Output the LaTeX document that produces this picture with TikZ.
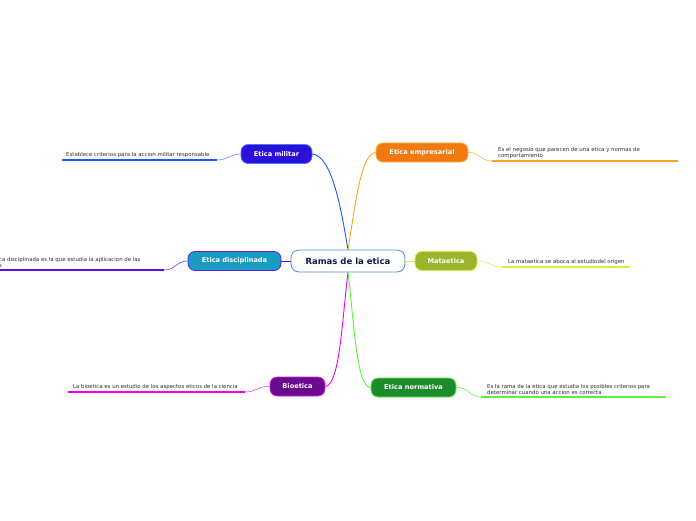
\documentclass[tikz,border=0pt]{standalone}
\usepackage{fontspec}
\setmainfont{DejaVu Sans}
\definecolor{cmil}{HTML}{2A10D8}\definecolor{bmil}{HTML}{4A7CFF}\definecolor{lmil}{HTML}{1A5CFF}
\definecolor{cemp}{HTML}{F07A10}\definecolor{bemp}{HTML}{F7B040}\definecolor{lemp}{HTML}{F6A623}
\definecolor{cdis}{HTML}{1A9CC0}\definecolor{bdis}{HTML}{5A1EE8}\definecolor{ldis}{HTML}{5A0EF0}
\definecolor{cmat}{HTML}{9BB52C}\definecolor{bmat}{HTML}{D6F040}\definecolor{lmat}{HTML}{D6F03A}
\definecolor{cbio}{HTML}{6A0A8C}\definecolor{bbio}{HTML}{E020E8}\definecolor{lbio}{HTML}{F000F0}
\definecolor{cnor}{HTML}{1E8A2E}\definecolor{bnor}{HTML}{58F038}\definecolor{lnor}{HTML}{5CF03C}
\definecolor{cbor}{HTML}{4A90D9}\definecolor{ctxt}{HTML}{0A1E46}
\tikzset{
 topic/.style={rounded corners=7pt, draw, line width=0.8pt, minimum height=19pt, inner xsep=10pt, text=white, font=\fontsize{6.6}{7}\selectfont\bfseries},
 leaf/.style={inner sep=0pt, text=black!82, font=\fontsize{5.4}{6.2}\selectfont, align=left},
 conn/.style={line width=0.9pt},
 thin/.style={line width=0.5pt},
 under/.style={line width=1.4pt}
}
\begin{document}
\begin{tikzpicture}[x=1pt,y=-1pt]
\useasboundingbox[fill=white] (0,0) rectangle (696,520);
\node[rounded corners=8pt, draw=cbor, line width=0.8pt, fill=white, minimum width=114pt, minimum height=22pt, text=ctxt, font=\fontsize{8.5}{9}\selectfont\bfseries] (c) at (348,261) {Ramas de la etica};
\node[topic, fill=cmil, draw=bmil, minimum width=71pt] (mil) at (276.5,154) {Etica militar};
\node[topic, fill=cemp, draw=bemp, minimum width=92pt] (emp) at (422,152.5) {Etica empresarial};
\node[topic, fill=cdis, draw=bdis, minimum width=93pt] (dis) at (234.5,261) {Etica disciplinada};
\node[topic, fill=cmat, draw=bmat, minimum width=62pt] (mat) at (446,261) {Mataetica};
\node[topic, fill=cbio, draw=bbio, minimum width=55pt] (bio) at (297.5,386.5) {Bioetica};
\node[topic, fill=cnor, draw=bnor, minimum width=85pt] (nor) at (413.5,387.5) {Etica normativa};
% main connectors
\draw[conn, lmil] (c.north) .. controls (342,215) and (333,156) .. (mil.east);
\draw[conn, lemp] (c.north) .. controls (354,215) and (360,153) .. (emp.west);
\draw[conn, ldis] (c.west) -- (dis.east);
\draw[conn, lmat] (c.east) -- (mat.west);
\draw[conn, lbio] (c.south) .. controls (342,320) and (340,384) .. (bio.east);
\draw[conn, lnor] (c.south) .. controls (354,320) and (356,386) .. (nor.west);
% leaves
\coordinate (m1) at (217,160); \coordinate (m2) at (62,160);
\draw[thin, bmil] (mil.west) .. controls (230,154) and (228,160) .. (m1);
\draw[under, lmil] (m1) -- (m2);
\node[leaf, anchor=base west] (tm) at (66,156) {Establece criterios para la accion militar responsable};
\coordinate (e1) at (492,161); \coordinate (e2) at (678,161);
\draw[thin, bemp] (emp.east) .. controls (480,152) and (480,161) .. (e1);
\draw[under, lemp] (e1) -- (e2);
\node[leaf, anchor=south west] (te) at (498,159) {Es el negosio que parecen de una etica y normas de\\comportamiento};
\coordinate (d1) at (164,270); \coordinate (d2) at (0,270);
\draw[thin, bdis] (dis.west) .. controls (176,261) and (176,270) .. (d1);
\draw[under, ldis] (d1) -- (d2);
\node[leaf, anchor=south west] (td) at (-1,268) {ca disciplinada es la que estudia la aplicacion de las\\s};
\coordinate (a1) at (502,267); \coordinate (a2) at (630,267);
\draw[thin, bmat] (mat.east) .. controls (490,261) and (490,267) .. (a1);
\draw[under, lmat] (a1) -- (a2);
\node[leaf, anchor=base west] (ta) at (508,263) {La mataetica se aboca al estudiodel origen};
\coordinate (b1) at (245,392); \coordinate (b2) at (68,392);
\draw[thin, bbio] (bio.west) .. controls (257,386) and (257,392) .. (b1);
\draw[under, lbio] (b1) -- (b2);
\node[leaf, anchor=base west] (tb) at (73,388) {La bioetica es un estudio de los aspectos eticos de la ciencia};
\coordinate (n1) at (481,397); \coordinate (n2) at (666,397);
\draw[thin, bnor] (nor.east) .. controls (469,387) and (469,397) .. (n1);
\draw[under, lnor] (n1) -- (n2);
\node[leaf, anchor=south west] (tn) at (487,394.5) {Es la rama de la etica que estudia los posibles criterios para\\determinar cuando una accion es correcta};
\end{tikzpicture}
\end{document}
